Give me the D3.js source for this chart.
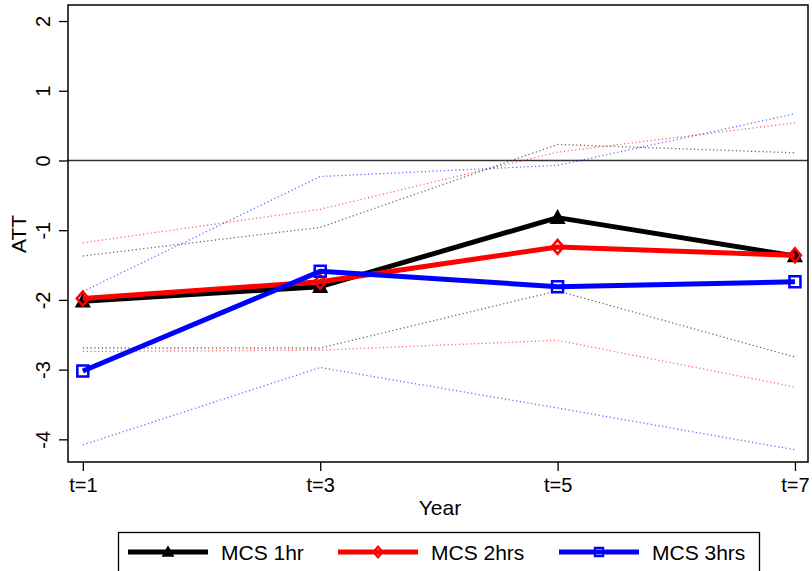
<!DOCTYPE html>
<html>
<head>
<meta charset="utf-8">
<script src="https://cdn.jsdelivr.net/npm/d3@7"></script>
<style>
  body { margin: 0; background: #fff; }
  svg { display: block; font-family: "Liberation Sans", Arial, sans-serif; }
</style>
</head>
<body>
<svg id="chart" width="812" height="571"></svg>
<script>
// Periods and tick labels
const periods = [1, 3, 5, 7];
const periodLabels = ["t=1", "t=3", "t=5", "t=7"];
const yTicks = [-4, -3, -2, -1, 0, 1, 2];

// Point estimates (ATT)
const mcs1hr  = [-2.02, -1.81, -0.82, -1.37];
const mcs2hrs = [-1.98, -1.74, -1.24, -1.36];
const mcs3hrs = [-3.02, -1.59, -1.81, -1.74];

// Confidence bounds
const mcs1hrUpper  = [-1.37, -0.96, 0.23, 0.11];
const mcs1hrLower  = [-2.69, -2.69, -1.87, -2.82];
const mcs2hrsUpper = [-1.18, -0.70, 0.12, 0.54];
const mcs2hrsLower = [-2.74, -2.72, -2.58, -3.25];
const mcs3hrsUpper = [-1.88, -0.23, -0.07, 0.67];
const mcs3hrsLower = [-4.08, -2.97, -3.55, -4.15];

const seriesNames = ["MCS 1hr", "MCS 2hrs", "MCS 3hrs"];
const seriesColors = ["#000000", "#ff0000", "#0000ff"];
const seriesMarkers = ["triangle", "diamond", "square"];

const series = [
  { name: seriesNames[0], est: mcs1hr,  hi: mcs1hrUpper,  lo: mcs1hrLower,  color: seriesColors[0], marker: seriesMarkers[0] },
  { name: seriesNames[1], est: mcs2hrs, hi: mcs2hrsUpper, lo: mcs2hrsLower, color: seriesColors[1], marker: seriesMarkers[1] },
  { name: seriesNames[2], est: mcs3hrs, hi: mcs3hrsUpper, lo: mcs3hrsLower, color: seriesColors[2], marker: seriesMarkers[2] }
];

const svg = d3.select("#chart");
const plot = { left: 68, right: 808, top: 5, bottom: 462 };

const x = d3.scaleLinear().domain([0.875, 7.11]).range([plot.left, plot.right]);
const y = d3.scaleLinear().domain([-4.325, 2.23]).range([plot.bottom, plot.top]);

// Axes
const yAxis = svg.append("g")
  .attr("transform", `translate(${plot.left},0)`)
  .call(d3.axisLeft(y).tickValues(yTicks).tickSize(9).tickFormat(d => String(d)));
yAxis.select(".domain").remove();
yAxis.selectAll("line").attr("stroke", "#000").attr("stroke-width", 1.3);
yAxis.selectAll("text")
  .attr("font-size", 20)
  .attr("fill", "#000")
  .attr("x", null).attr("dy", null)
  .attr("text-anchor", "middle")
  .attr("transform", "translate(-18,0) rotate(-90)")
  .attr("y", 0);

const xAxis = svg.append("g")
  .attr("transform", `translate(0,${plot.bottom})`)
  .call(d3.axisBottom(x).tickValues(periods).tickSize(9).tickFormat((d, i) => periodLabels[i]));
xAxis.select(".domain").remove();
xAxis.selectAll("line").attr("stroke", "#000").attr("stroke-width", 1.3);
xAxis.selectAll("text").attr("font-size", 20).attr("fill", "#000")
  .attr("y", 30).attr("dy", null);

// Zero reference line
svg.append("line")
  .attr("x1", plot.left).attr("x2", plot.right)
  .attr("y1", y(0)).attr("y2", y(0))
  .attr("stroke", "#333").attr("stroke-width", 1.5);

// Plot frame
svg.append("rect")
  .attr("x", plot.left).attr("y", plot.top)
  .attr("width", plot.right - plot.left).attr("height", plot.bottom - plot.top)
  .attr("fill", "none").attr("stroke", "#000").attr("stroke-width", 1.5);

// Axis titles
svg.append("text")
  .attr("transform", `translate(26,234) rotate(-90)`)
  .attr("text-anchor", "middle").attr("font-size", 21).attr("fill", "#000")
  .text("ATT");
svg.append("text")
  .attr("x", 440).attr("y", 515)
  .attr("text-anchor", "middle").attr("font-size", 21).attr("fill", "#000")
  .text("Year");

const line = d3.line().x((d, i) => x(periods[i])).y(d => y(d));

// Confidence bounds (dotted)
series.forEach(s => {
  [s.hi, s.lo].forEach(b => {
    svg.append("path")
      .attr("d", line(b))
      .attr("fill", "none")
      .attr("stroke", s.color)
      .attr("stroke-opacity", 0.6)
      .attr("stroke-width", 1.3)
      .attr("stroke-dasharray", "1.2,2.6");
  });
});

// Marker shapes
function markerPath(type, k) {
  k = k || 1;
  if (type === "triangle") return `M0,${-6 * k}L${6 * k},${5 * k}L${-6 * k},${5 * k}Z`;
  if (type === "diamond") return `M0,${-7 * k}L${6 * k},0L0,${7 * k}L${-6 * k},0Z`;
  return `M${-5.5 * k},${-5.5 * k}L${5.5 * k},${-5.5 * k}L${5.5 * k},${5.5 * k}L${-5.5 * k},${5.5 * k}Z`;
}

// Point estimate lines and markers
series.forEach(s => {
  svg.append("path")
    .attr("d", line(s.est))
    .attr("fill", "none")
    .attr("stroke", s.color)
    .attr("stroke-width", 5)
    .attr("stroke-linejoin", "round");
  svg.selectAll(null)
    .data(s.est)
    .enter().append("path")
    .attr("transform", (d, i) => `translate(${x(periods[i])},${y(d)})`)
    .attr("d", markerPath(s.marker))
    .attr("fill", s.marker === "triangle" ? s.color : "none")
    .attr("stroke", s.color)
    .attr("stroke-width", 2.5);
});

// Legend
const legend = svg.append("g");
legend.append("rect")
  .attr("x", 118.5).attr("y", 532.5).attr("width", 641).attr("height", 45)
  .attr("fill", "#fff").attr("stroke", "#000").attr("stroke-width", 1.3);
const legendX = [128, 338, 559];
series.forEach((s, i) => {
  const g = legend.append("g").attr("transform", `translate(${legendX[i]},552)`);
  g.append("line").attr("x1", 0).attr("x2", 80).attr("y1", 0).attr("y2", 0)
    .attr("stroke", s.color).attr("stroke-width", 5);
  g.append("path").attr("transform", "translate(40,0)")
    .attr("d", markerPath(s.marker, 0.75))
    .attr("fill", s.marker === "triangle" ? s.color : "none")
    .attr("stroke", s.color).attr("stroke-width", 2.2);
  g.append("text").attr("x", 93).attr("y", 0).attr("dy", "0.36em")
    .attr("font-size", 21).attr("fill", "#000").text(s.name);
});
</script>
</body>
</html>
